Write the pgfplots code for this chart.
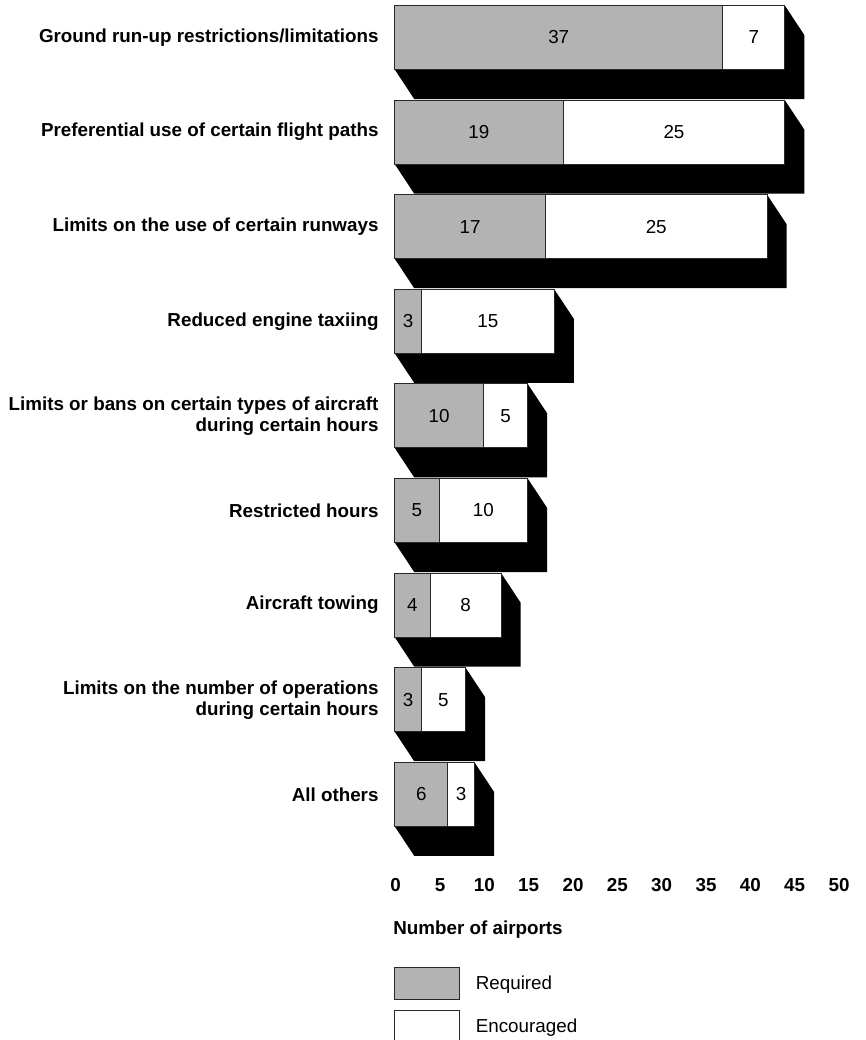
\documentclass[border=0pt]{standalone}
\usepackage{fontspec}
\setmainfont{Liberation Sans}
\usepackage{pgfplots}
\pgfplotsset{compat=1.18}
\usepackage{pgfplotstable}
\definecolor{reqgray}{RGB}{179,179,179}
\definecolor{edge}{RGB}{40,40,40}
\newcommand\cf{\fontsize{18.8}{21}\selectfont}
\pgfplotstableread{
y req enc tot
9 37 7 44
8 19 25 44
7 17 25 42
6 3 15 18
5 10 5 15
4 5 10 15
3 4 8 12
2 3 5 8
1 6 3 9
}\data
\begin{document}
\begin{tikzpicture}
\useasboundingbox (0,0) rectangle (866pt,-1040pt);
\begin{axis}[
 at={(394.7pt,0pt)}, anchor=north west,
 scale only axis, width=443.3pt, height=854.8pt,
 xmin=0, xmax=50, ymin=0.3605, ymax=9.3964,
 clip=false,
 axis line style={draw=none},
 tick style={draw=none},
 xtick={0,5,...,50},
 ytick={1,...,9},
 yticklabels={All others,{Limits on the number of operations\\during certain hours},Aircraft towing,Restricted hours,{Limits or bans on certain types of aircraft\\during certain hours},Reduced engine taxiing,Limits on the use of certain runways,Preferential use of certain flight paths,Ground run-up restrictions/limitations},
 /pgf/number format/assume math mode=true,
 xticklabel style={font=\cf\bfseries, anchor=base, inner sep=0pt, yshift=-36.5pt, xshift=1pt},
 yticklabel style={font=\cf\bfseries, align=right, anchor=east, inner sep=0pt, xshift=-16pt},
 xlabel={Number of airports},
 xlabel style={at={(axis description cs:0,0)}, anchor=north west, inner sep=0pt, yshift=-66pt, xshift=-1.5pt, font=\cf\bfseries},
 legend style={at={(axis description cs:0,0)}, anchor=north west, xshift=-0.7pt, yshift=-112pt, draw=none, fill=none, inner sep=0pt, row sep=10pt, font=\cf, nodes={inner sep=0pt}},
 legend cell align=left,
]
% 3D shadows
\foreach \yy/\tt in {9/44,8/44,7/42,6/18,5/15,4/15,3/12,2/8,1/9}{
  \pgfmathsetmacro\ya{\yy+0.3383}
  \pgfmathsetmacro\yb{\yy-0.3383}
  \pgfmathsetmacro\yc{\yy+0.3383-0.312}
  \pgfmathsetmacro\yd{\yy-0.3383-0.312}
  \pgfmathsetmacro\xa{\tt+2.2}
  \edef\temp{\noexpand\addplot[fill=black,draw=none,forget plot] coordinates {(0,\ya) (\tt,\ya) (\xa,\yc) (\xa,\yd) (2.2,\yd) (0,\yb)} -- cycle;}
  \temp
}
\addplot[xbar, bar width=64pt, bar shift=0pt, fill=white, draw=edge, line width=0.9pt, forget plot] table[x=tot, y=y]{\data};
\addplot[xbar, bar width=64pt, bar shift=0pt, fill=reqgray, draw=edge, line width=0.9pt, forget plot] table[x=req, y=y]{\data};
\addplot[only marks, mark=none, nodes near coords, point meta=explicit symbolic, every node near coord/.append style={anchor=center, inner sep=0pt, font=\cf}, forget plot] table[x expr=\thisrow{req}/2, y=y, meta=req]{\data};
\addplot[only marks, mark=none, nodes near coords, point meta=explicit symbolic, every node near coord/.append style={anchor=center, inner sep=0pt, font=\cf}, forget plot] table[x expr=\thisrow{req}+\thisrow{enc}/2, y=y, meta=enc]{\data};
\addlegendimage{legend image code/.code={\draw[fill=reqgray,draw=edge,line width=0.9pt] (0pt,-16pt) rectangle (65pt,16pt); \path (81pt,0pt);}}
\addlegendentry{Required}
\addlegendimage{legend image code/.code={\draw[fill=white,draw=edge,line width=0.9pt] (0pt,-16pt) rectangle (65pt,16pt); \path (81pt,0pt);}}
\addlegendentry{Encouraged}
\end{axis}
\end{tikzpicture}
\end{document}
